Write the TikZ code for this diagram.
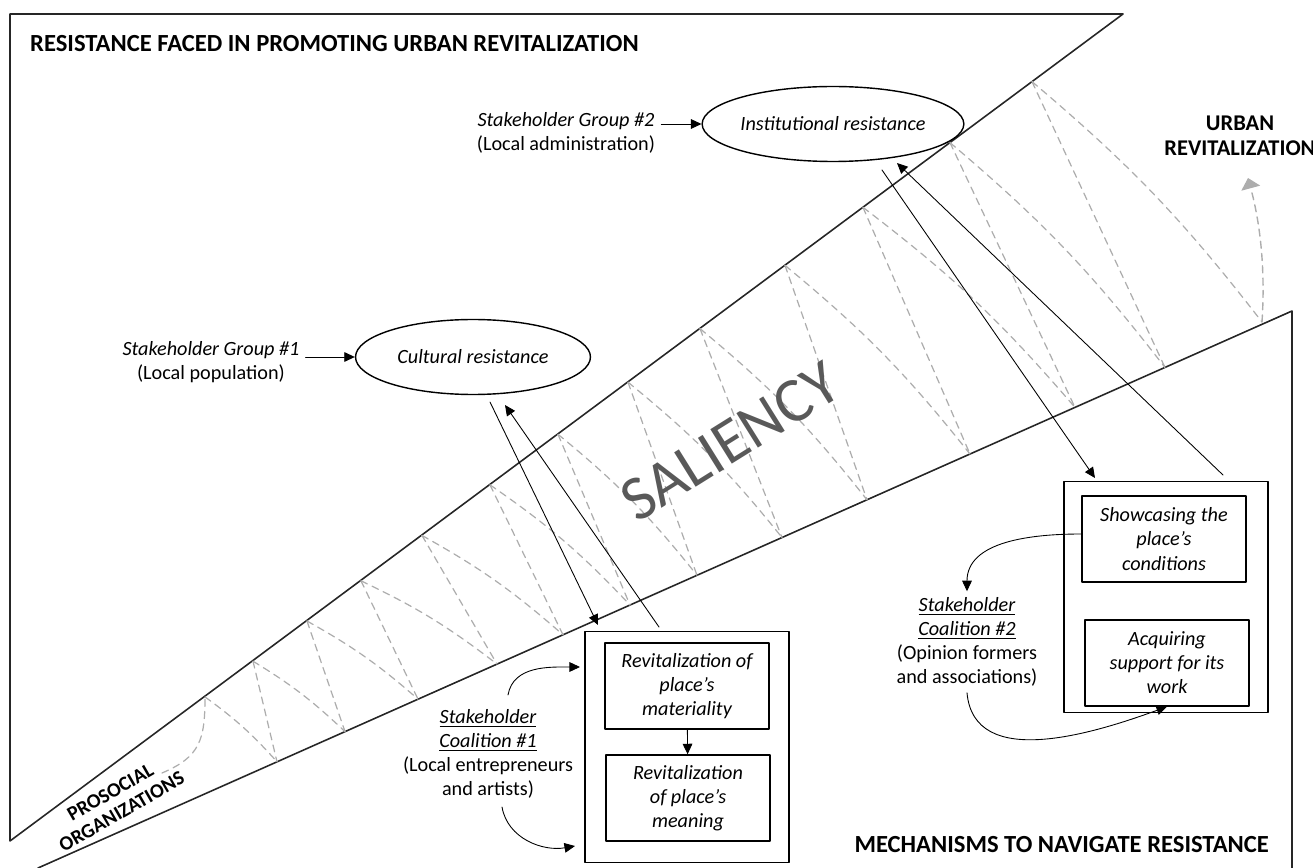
\documentclass[tikz,border=0pt]{standalone}
\usepackage{fontspec}
\setmainfont{Carlito}
\usetikzlibrary{calc}
\usetikzlibrary{arrows.meta}
\usetikzlibrary{shapes.geometric}

\newcommand{\txtfont}{\fontsize{11.5}{13.7}\selectfont}
\newcommand{\hdfont}{\fontsize{12.8}{14.2}\selectfont\bfseries}
\newcommand{\bigfont}{\fontsize{14}{16}\selectfont\bfseries}
\newcommand{\smallhdfont}{\fontsize{11.5}{12.8}\selectfont\bfseries}

\begin{document}
\begin{tikzpicture}[x=0.02cm, y=-0.02cm, line cap = round, line join = round, >={Triangle[length=6pt,width=5.5pt]}]
\tikzstyle{frame}=[draw=black!85, line width=0.9pt]
\tikzstyle{zig}=[draw=black!32, dash pattern=on 4pt off 3pt, line width=0.7pt]
\tikzstyle{resist}=[ellipse, draw=black, line width=0.8pt, minimum height=1.5cm, inner sep=0pt, font=\txtfont\itshape]
\tikzstyle{outerbox}=[draw=black, line width=0.9pt, minimum width=4.08cm, minimum height=4.62cm]
\tikzstyle{mechbox}=[draw=black, line width=0.8pt, minimum width=3.28cm, minimum height=1.72cm, align=center, font=\txtfont\itshape]
\tikzstyle{label}=[align=center, font=\txtfont]
\tikzstyle{link}=[draw=black, line width=0.5pt]
\useasboundingbox (0,0) rectangle (1313,868);

% the two halves and the saliency band
\draw[frame] (1123,14) -- (10,14) -- (10,841) -- cycle;
\draw[frame] (38,868) -- (1292,311) -- (1292,872);

% zig-zag inside the band
\draw[zig] (162,773) .. controls (200,757) and (205,740) .. (205,{842-0.744*195});
\foreach \ua/\lo/\ub in {205/277/253, 253/345/307, 307/418/361, 361/497/422, 422/563/490, 490/630/558, 558/697/628, 628/782/700, 700/867/785, 785/970/863, 863/1075/950, 950/1165/1032}
{
  \draw[zig] (\ua,{842-0.744*(\ua-10)}) to[bend left=6] (\lo,{867-0.444*(\lo-40)});
  \draw[zig] (\ub,{842-0.744*(\ub-10)}) -- (\lo,{867-0.444*(\lo-40)});
}
\coordinate (bandend) at (1262,322);
\draw[zig] (1032,{842-0.744*1022}) to[bend left=6] (bandend);

\node[rotate=32, text=black!65, font=\fontsize{36}{40}\selectfont] (sal) at (730,442) {SALIENCY};
\node[rotate=30, align=center, font=\smallhdfont] (proso) at (116,802) {PROSOCIAL\\ORGANIZATIONS};

% headings
\node[anchor=west, font=\bigfont] (title) at (24,44) {RESISTANCE FACED IN PROMOTING URBAN REVITALIZATION};
\node[anchor=east, font=\bigfont] (mechtitle) at (1275,845) {MECHANISMS TO NAVIGATE RESISTANCE};
\node[align=center, font=\hdfont] (urban) at (1240,136) {URBAN\\REVITALIZATION};
\coordinate (urbtip) at (1248,178);
\draw[draw=black!32, dash pattern=on 4pt off 3pt, line width=0.8pt, -{Triangle[length=6pt,width=11pt,fill=black!32]}] (bandend) .. controls (1266,260) and (1258,215) .. (urbtip);

% resistance
\node[resist, minimum width=4.7cm] (cult) at (473,357) {Cultural resistance};
\node[resist, minimum width=4.42cm] (inst) at (833,124) {Institutional resistance};
\node[label] (grp1) at (211,362) {\textit{Stakeholder Group \#1}\\(Local population)};
\node[label] (grp2) at (566,133) {\textit{Stakeholder Group \#2}\\(Local administration)};
\draw[link,->] (grp1.east |- cult.west) -- (cult.west);
\draw[link,->] (grp2.east |- inst.west) -- (inst.west);

% mechanisms, coalition 1
\node[outerbox] (outL) at (687,747) {};
\node[mechbox] (matL) at (687,686) {Revitalization of\\place’s\\materiality};
\node[mechbox] (meanL) at (688,798) {Revitalization\\of place’s\\meaning};
\draw[link,->] (matL) -- (meanL);
\node[label] (coal1) at (488,754) {\textit{\underline{Stakeholder}}\\\textit{\underline{Coalition \#1}}\\(Local entrepreneurs\\and artists)};
\coordinate (k1s) at (508,695);
\coordinate (k1e) at (580,667);
\coordinate (k2s) at (502,807);
\coordinate (k2e) at (575,846);
\draw[link,->] (k1s) to[out=80, in=180] (k1e);
\draw[link,->] (k2s) to[out=-80, in=190] (k2e);

% mechanisms, coalition 2
\node[outerbox] (outR) at (1166,597) {};
\node[mechbox] (showR) at (1164,539) {Showcasing the\\place’s\\conditions};
\node[mechbox] (acqR) at (1167,663) {Acquiring\\support for its\\work};
\node[label] (coal2) at (967,642) {\textit{\underline{Stakeholder}}\\\textit{\underline{Coalition \#2}}\\(Opinion formers\\and associations)};
\draw[link,->] ([yshift=0.1cm]showR.west) to[out=180, in=90] (coal2.north);
\draw[link,->] (coal2.south) to[out=-85, in=200] (acqR.south);

% links between resistance and mechanisms
\coordinate (a1) at (490,402);
\coordinate (a2) at (598,625);
\coordinate (a3) at (659,627);
\coordinate (a4) at (505,405);
\draw[link,->] (a1) -- (a2);
\draw[link,->] (a3) -- (a4);
\coordinate (b1) at (882,170);
\coordinate (b2) at (1095,478);
\coordinate (b3) at (1223,475);
\coordinate (b4) at (897,163);
\draw[link,->] (b1) -- (b2);
\draw[link,->] (b3) -- (b4);
\end{tikzpicture}
\end{document}
